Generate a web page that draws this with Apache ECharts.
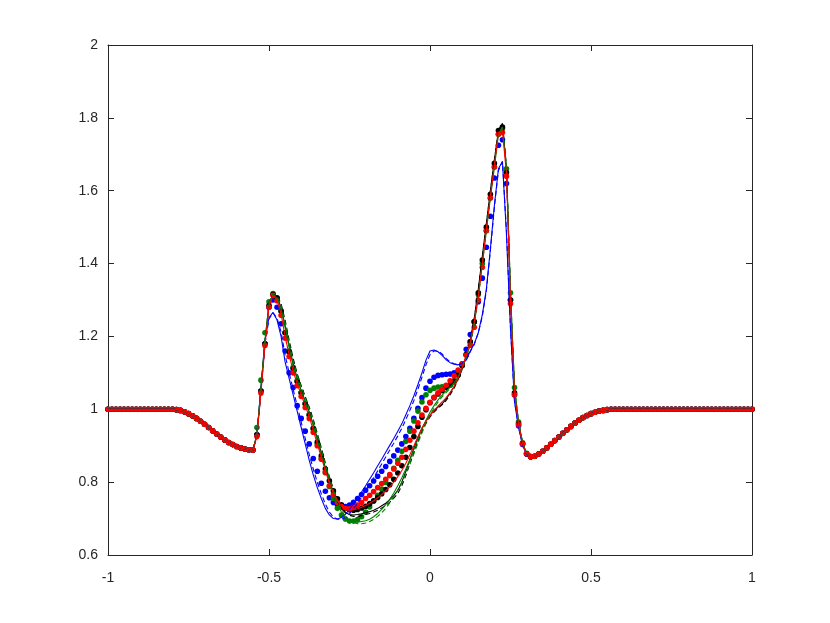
<!DOCTYPE html>
<html>
<head>
<meta charset="utf-8">
<script src="https://cdn.jsdelivr.net/npm/echarts@6/dist/echarts.min.js"></script>
<style>html,body{margin:0;padding:0;background:#fff;}#c{width:830px;height:623px;}</style>
</head>
<body>
<div id="c"></div>
<script>
// x grid: -1 .. 1, step 0.0125 (161 points)
var xStart = -1, xStep = 0.0125, nPts = 161;
var xTicks = ['-1', '-0.5', '0', '0.5', '1'];
var yTicks = ['0.6', '0.8', '1', '1.2', '1.4', '1.6', '1.8', '2'];

// shared left tail x = -1 .. -0.5625 (36 values)
var leftTail = [1,1,1,1,1,1,1,1,1,1,1,1,1,1,1,1,1,
  0.999,0.997,0.993,0.988,0.982,0.975,0.967,0.959,0.950,0.941,
  0.932,0.924,0.916,0.909,0.903,0.898,0.894,0.891,0.889];
// shared right tail x = 0.3125 .. 1 (56 values)
var rightTail = [0.870,0.871,0.877,0.885,0.894,0.904,0.914,0.924,0.934,0.944,
  0.953,0.962,0.970,0.977,0.983,0.988,0.992,0.995,0.997,0.999,
  1,1,1,1,1,1,1,1,1,1,1,1,1,1,1,1,1,1,1,1,1,1,1,1,1,1,1,1,1,1,1,1,1,1,1,1];

// middle part x = -0.55 .. 0.3 (69 values)
var redDotsMid = [0.888,0.925,1.045,1.175,1.280,1.313,1.298,1.258,1.195,1.145,
  1.100,1.065,1.035,1.005,0.975,0.937,0.900,0.863,0.828,0.790,
  0.765,0.745,0.733,0.728,0.727,0.731,0.737,0.745,0.755,0.764,
  0.774,0.785,0.796,0.808,0.821,0.836,0.852,0.868,0.890,0.915,
  0.940,0.963,0.984,1.003,1.019,1.033,1.045,1.055,1.066,1.078,
  1.092,1.108,1.125,1.148,1.176,1.225,1.300,1.390,1.490,1.580,
  1.665,1.755,1.760,1.640,1.290,1.040,0.958,0.905,0.878];
var blackDotsMid = [0.888,0.930,1.050,1.180,1.285,1.315,1.306,1.270,1.210,1.158,
  1.112,1.076,1.045,1.015,0.985,0.948,0.910,0.872,0.836,0.804,
  0.776,0.754,0.738,0.729,0.724,0.723,0.725,0.729,0.734,0.741,
  0.749,0.758,0.768,0.780,0.793,0.808,0.825,0.845,0.868,0.895,
  0.925,0.953,0.978,0.999,1.018,1.032,1.042,1.051,1.060,1.068,
  1.078,1.094,1.120,1.150,1.185,1.240,1.320,1.410,1.500,1.590,
  1.675,1.765,1.775,1.650,1.300,1.045,0.960,0.906,0.878];
var greenDotsMid = [0.888,0.950,1.080,1.210,1.295,1.318,1.305,1.270,1.210,1.160,
  1.115,1.078,1.046,1.015,0.984,0.946,0.905,0.865,0.826,0.788,
  0.755,0.728,0.710,0.699,0.693,0.693,0.697,0.705,0.718,0.732,
  0.748,0.764,0.781,0.799,0.818,0.838,0.860,0.885,0.912,0.940,
  0.968,0.995,1.020,1.040,1.052,1.058,1.061,1.062,1.063,1.066,
  1.076,1.095,1.120,1.150,1.185,1.240,1.315,1.400,1.490,1.580,
  1.665,1.755,1.770,1.660,1.320,1.060,0.965,0.908,0.879];
var blueDotsMid = [0.888,0.930,1.050,1.180,1.280,1.300,1.280,1.235,1.160,1.100,
  1.060,1.010,0.975,0.940,0.905,0.865,0.830,0.797,0.775,0.757,
  0.744,0.737,0.733,0.733,0.737,0.745,0.755,0.766,0.778,0.790,
  0.803,0.816,0.830,0.843,0.857,0.872,0.888,0.905,0.925,0.948,
  0.975,1.003,1.032,1.058,1.077,1.088,1.093,1.095,1.096,1.097,
  1.100,1.105,1.125,1.165,1.205,1.240,1.295,1.360,1.445,1.530,
  1.635,1.725,1.740,1.620,1.300,1.040,0.955,0.903,0.877];
var blueLineMid = [0.888,0.930,1.060,1.190,1.252,1.266,1.245,1.200,1.130,1.085,
  1.040,0.995,0.950,0.905,0.860,0.820,0.785,0.755,0.728,0.710,
  0.700,0.699,0.703,0.712,0.725,0.740,0.756,0.773,0.790,0.808,
  0.826,0.845,0.863,0.882,0.901,0.920,0.940,0.960,0.985,1.010,
  1.037,1.068,1.100,1.135,1.160,1.163,1.158,1.148,1.136,1.128,
  1.124,1.122,1.126,1.135,1.160,1.180,1.210,1.260,1.330,1.440,
  1.560,1.660,1.680,1.480,1.220,1.020,0.950,0.902,0.877];
var blueDashMid = [0.888,0.925,1.050,1.180,1.248,1.265,1.250,1.212,1.150,1.100,
  1.055,1.010,0.965,0.920,0.876,0.836,0.800,0.768,0.740,0.718,
  0.704,0.698,0.698,0.703,0.713,0.727,0.742,0.759,0.776,0.794,
  0.812,0.831,0.850,0.869,0.888,0.907,0.927,0.948,0.972,0.997,
  1.024,1.055,1.088,1.122,1.150,1.160,1.160,1.152,1.140,1.130,
  1.125,1.123,1.126,1.135,1.158,1.178,1.210,1.255,1.325,1.435,
  1.555,1.655,1.680,1.490,1.225,1.022,0.951,0.902,0.877];
var greenLineMid = [0.888,0.930,1.060,1.190,1.290,1.315,1.305,1.275,1.225,1.170,
  1.120,1.082,1.050,1.020,0.990,0.955,0.915,0.875,0.836,0.800,
  0.768,0.740,0.718,0.703,0.695,0.691,0.690,0.692,0.694,0.698,
  0.705,0.714,0.725,0.738,0.753,0.770,0.790,0.812,0.836,0.862,
  0.890,0.918,0.945,0.970,0.992,1.010,1.026,1.039,1.050,1.060,
  1.072,1.090,1.115,1.145,1.180,1.235,1.310,1.400,1.490,1.580,
  1.665,1.755,1.775,1.660,1.320,1.060,0.965,0.908,0.879];
var greenDashMid = [0.888,0.930,1.055,1.185,1.288,1.316,1.310,1.285,1.238,1.183,
  1.133,1.094,1.062,1.032,1.002,0.968,0.928,0.888,0.848,0.812,
  0.778,0.748,0.724,0.706,0.695,0.689,0.686,0.686,0.688,0.692,
  0.698,0.706,0.716,0.728,0.743,0.760,0.779,0.800,0.824,0.850,
  0.878,0.907,0.935,0.961,0.984,1.003,1.020,1.034,1.046,1.057,
  1.070,1.088,1.113,1.143,1.178,1.232,1.307,1.398,1.490,1.580,
  1.665,1.755,1.775,1.665,1.325,1.062,0.966,0.908,0.879];
var blackLineMid = [0.888,0.930,1.055,1.185,1.290,1.316,1.308,1.280,1.230,1.175,
  1.125,1.085,1.052,1.022,0.993,0.958,0.920,0.880,0.840,0.804,
  0.772,0.746,0.727,0.716,0.711,0.710,0.711,0.713,0.716,0.719,
  0.723,0.728,0.735,0.742,0.752,0.763,0.777,0.800,0.830,0.862,
  0.893,0.922,0.948,0.968,0.984,0.996,1.006,1.015,1.028,1.045,
  1.062,1.085,1.112,1.145,1.190,1.250,1.330,1.420,1.510,1.600,
  1.685,1.765,1.785,1.660,1.310,1.050,0.962,0.907,0.878];
var blackDashMid = [0.888,0.930,1.052,1.182,1.288,1.316,1.312,1.290,1.245,1.190,
  1.140,1.098,1.065,1.035,1.006,0.972,0.934,0.894,0.853,0.815,
  0.781,0.753,0.731,0.717,0.709,0.706,0.706,0.708,0.711,0.714,
  0.718,0.723,0.729,0.736,0.745,0.756,0.769,0.790,0.818,0.850,
  0.882,0.912,0.940,0.962,0.979,0.992,1.003,1.012,1.024,1.040,
  1.058,1.082,1.110,1.143,1.188,1.248,1.328,1.418,1.508,1.598,
  1.683,1.765,1.785,1.665,1.315,1.052,0.963,0.907,0.878];
var redLineMid = [0.888,0.925,1.045,1.175,1.282,1.313,1.300,1.262,1.200,1.150,
  1.105,1.070,1.040,1.010,0.980,0.942,0.905,0.868,0.832,0.798,
  0.770,0.748,0.734,0.726,0.723,0.724,0.727,0.731,0.736,0.742,
  0.749,0.757,0.766,0.776,0.787,0.800,0.815,0.832,0.852,0.875,
  0.900,0.925,0.948,0.967,0.983,0.997,1.009,1.020,1.032,1.046,
  1.063,1.085,1.115,1.148,1.185,1.240,1.310,1.400,1.495,1.585,
  1.670,1.760,1.765,1.645,1.295,1.042,0.959,0.905,0.878];

function pts(mid) {
  var ys = leftTail.concat(mid, rightTail);
  var out = [];
  for (var i = 0; i < nPts; i++) {
    out.push([+(xStart + xStep * i).toFixed(4), ys[i]]);
  }
  return out;
}

var AX = '#262626';
var FONT = 'Liberation Sans, Arial, Helvetica, sans-serif';
function lineS(name, mid, color, dashed) {
  return {name: name, type: 'line', data: pts(mid), showSymbol: false, symbol: 'none',
    lineStyle: {color: color, width: 1.1, type: dashed ? [5, 3] : 'solid'},
    itemStyle: {color: color}, animation: false, silent: true};
}
function dotS(name, mid, color) {
  return {name: name, type: 'scatter', data: pts(mid), symbol: 'circle', symbolSize: 5.6,
    itemStyle: {color: color, opacity: 1}, animation: false, silent: true};
}

var chart = echarts.init(document.getElementById('c'), null, {renderer: 'canvas'});
var baseAxis = {
  axisLine: {show: true, onZero: false, lineStyle: {color: AX, width: 1}},
  axisTick: {show: true, inside: true, length: 6, lineStyle: {color: AX, width: 1}},
  splitLine: {show: false}
};
chart.setOption({
  backgroundColor: '#ffffff',
  animation: false,
  grid: {left: 108, right: 78, top: 45, bottom: 68, containLabel: false},
  xAxis: [
    Object.assign({type: 'value', min: -1, max: 1, interval: 0.5, position: 'bottom',
      axisLabel: {show: true, color: AX, fontSize: 14, fontFamily: FONT, margin: 16,
        showMinLabel: true, showMaxLabel: true,
        formatter: function (v) { var i = Math.round((v + 1) / 0.5); return xTicks[i]; }}}, baseAxis),
    Object.assign({type: 'value', min: -1, max: 1, interval: 0.5, position: 'top',
      axisLabel: {show: false}}, baseAxis)
  ],
  yAxis: [
    Object.assign({type: 'value', min: 0.6, max: 2, interval: 0.2, position: 'left',
      axisLabel: {show: true, color: AX, fontSize: 14, fontFamily: FONT, margin: 10,
        showMinLabel: true, showMaxLabel: true,
        formatter: function (v) { var i = Math.round((v - 0.6) / 0.2); return yTicks[i]; }}}, baseAxis),
    Object.assign({type: 'value', min: 0.6, max: 2, interval: 0.2, position: 'right',
      axisLabel: {show: false}}, baseAxis)
  ],
  series: [
    lineS('black', blackLineMid, '#000000', false),
    lineS('black dashed', blackDashMid, '#000000', true),
    lineS('blue', blueLineMid, '#0000ff', false),
    lineS('blue dashed', blueDashMid, '#0000ff', true),
    lineS('green', greenLineMid, '#008000', false),
    lineS('green dashed', greenDashMid, '#008000', true),
    lineS('red', redLineMid, '#ff0000', false),
    dotS('blue dots', blueDotsMid, '#0000ff'),
    dotS('green dots', greenDotsMid, '#008000'),
    dotS('black dots', blackDotsMid, '#000000'),
    dotS('red dots', redDotsMid, '#ff0000')
  ]
});
</script>
</body>
</html>
